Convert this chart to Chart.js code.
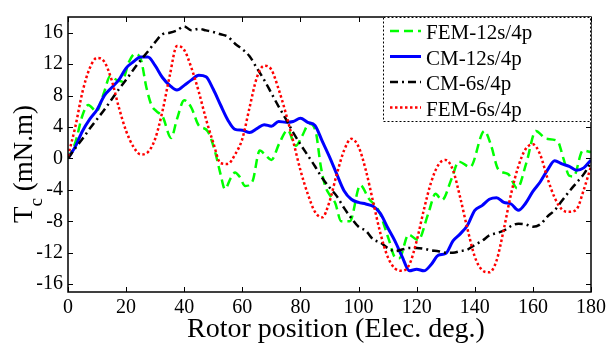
<!DOCTYPE html>
<html>
<head>
<meta charset="utf-8">
<script src="https://cdn.jsdelivr.net/npm/chart.js@4.4.0/dist/chart.umd.min.js"></script>
<style>
html, body { margin: 0; padding: 0; background: #fff; }
</style>
</head>
<body>
<canvas id="chart" width="610" height="346"></canvas>
<script>
// rotor position grid (elec. deg) shared by three of the curves
var angles = [0,2.5,5,7.5,10,12.5,15,17.5,20,22.5,25,27.5,30,32.5,35,37.5,40,42.5,45,47.5,50,52.5,55,57.5,
	60,62.5,65,67.5,70,72.5,75,77.5,80,82.5,85,87.5,90,92.5,95,97.5,100,102.5,105,107.5,110,112.5,115,117.5,
	120,122.5,125,127.5,130,132.5,135,137.5,140,142.5,145,147.5,150,152.5,155,157.5,160,162.5,165,167.5,170,172.5,175,177.5,180];

var cm12 = [0,1.5,3.5,5,6.2,8,9,10,11.5,12.3,12.9,12.9,11.8,10.3,9.3,8.7,9.3,10,10.6,10.4,8.8,6.8,4.9,3.7,
	3.6,3.3,3.8,4.3,4.1,4.7,4.6,4.7,5.1,4.6,4.2,2.2,0.2,-2,-4.1,-5.2,-5.6,-5.8,-6.1,-7,-8.8,-10.5,-12.5,-14.3,
	-14.1,-14.3,-13.5,-12.3,-12.1,-10.5,-9.6,-8.5,-6.6,-6,-5.2,-5,-5.6,-5.8,-6.6,-5.7,-4.2,-3,-1.5,-0.3,-0.7,-1,-1.5,-1.2,-0.2];

var cm6 = [0,1.3,2.5,3.8,5,6.2,7.5,8.8,10,11.3,12.5,13.6,14.8,15.8,16,16.3,16.8,16.3,16.5,16.3,16.1,15.8,15.5,14.6,
	13.9,13,11.5,10,8.3,6.6,5,3.3,1.8,0.4,-1,-2.5,-3.7,-4.8,-6.3,-7.6,-8.7,-9.2,-10.3,-10.7,-11.4,-11.8,-11.6,-11.4,
	-11.4,-11.5,-11.7,-11.8,-12,-12,-11.8,-11.6,-11,-10.5,-9.8,-9.5,-9.2,-8.6,-8.3,-8.4,-8.7,-8.4,-7.4,-6.6,-5.4,-4.2,-3.1,-2,-0.5];

var fem6 = [0.3,4,8.5,11.5,12.8,12.3,10,6.5,3.5,1.5,0.5,0.8,2.5,6,10.5,14.3,13.8,11.5,8.5,5,2,-0.6,-0.7,0.5,
	2.5,6.5,10.3,11.8,11.3,8.8,5.7,2.2,-1.5,-4.5,-6.8,-7.5,-5.5,-2,1,2.5,1.5,-1.5,-5.5,-9.5,-12.5,-14,-14.3,-13.5,
	-10.5,-6.5,-3,-0.8,-0.2,-1.5,-5,-9,-12.5,-14.2,-14.5,-13,-9,-4.5,-1,1.2,1.8,0.5,-2.5,-5,-6.5,-6.8,-6.5,-4,-1];

// FEM-12s/4p read at its own turning points
var fem12X = [0,2.5,5,7,9.8,12.5,14.5,16.7,18.5,21,23,25,27,28.7,30.5,32.6,35.5,37.5,40,42.4,45,48,50.5,52.5,54,
	56,57.5,59,61,63.5,66,68,70,72.7,75.6,78.4,80.5,83,85.2,87,88.5,90,92,94,97,100.6,103.5,107,110.4,112.6,
	114,117.2,120.5,124,126.5,128.7,132.1,134.5,138.4,143.3,145.5,148.1,151.5,154.6,157.8,161,164.6,168.5,170.5,172.5,174,177.2,180];
var fem12Y = [0,2,5.5,6.8,6,8.5,10.5,10,9.8,12.3,13.3,12.7,9,6.8,6,5.3,2.6,5,7.4,6.5,4.2,3.5,1,-2,-3.9,
	-2.5,-1.8,-2.3,-3.5,-2.9,1,0.4,-0.2,1.9,3.6,1.6,2.8,4.4,3.5,-1,-3.5,-4.6,-5.7,-8,-8,-3.4,-5.1,-6.7,-10.3,-12.6,
	-12.7,-9.7,-10.4,-7,-4.5,-5.3,-2.5,-0.4,-1.1,3.5,1.8,-1.4,-2,-3.8,-0.5,3.5,2.5,2.2,0,-2.2,-2.3,1,0.8];

var xTicks = [0,20,40,60,80,100,120,140,160,180];
var yTicks = [-16,-12,-8,-4,0,4,8,12,16];
var seriesNames = ["FEM-12s/4p", "CM-12s/4p", "CM-6s/4p", "FEM-6s/4p"];

var serif = "'Liberation Serif', 'Times New Roman', serif";

function pts(xs, ys) {
	var out = [];
	for (var i = 0; i < xs.length; i++) out.push({x: xs[i], y: ys[i]});
	return out;
}

var styles = [
	{color: '#00ff00', dash: [9, 5], width: 2.5},
	{color: '#0000ff', dash: [], width: 3},
	{color: '#000000', dash: [8, 4, 2, 4], width: 2.5},
	{color: '#ff0000', dash: [2.5, 2.5], width: 2.5}
];
var seriesData = [pts(fem12X, fem12Y), pts(angles, cm12), pts(angles, cm6), pts(angles, fem6)];

var datasets = [];
for (var i = 0; i < seriesNames.length; i++) {
	datasets.push({
		label: seriesNames[i],
		data: seriesData[i],
		borderColor: styles[i].color,
		borderWidth: styles[i].width,
		borderDash: styles[i].dash,
		borderCapStyle: 'butt',
		pointRadius: 0,
		fill: false,
		cubicInterpolationMode: 'monotone',
		order: 3 - i
	});
}

function seg(c, x1, y1, x2, y2) {
	c.beginPath(); c.moveTo(x1, y1); c.lineTo(x2, y2); c.stroke();
}

var framePlugin = {
	id: 'frame',
	afterDraw: function(chart) {
		var c = chart.ctx, a = chart.chartArea;
		var xs = chart.scales.x, ys = chart.scales.y;
		c.save();
		c.strokeStyle = '#000';
		c.lineWidth = 1;
		for (var i = 0; i < xTicks.length; i++) {
			var px = Math.round(xs.getPixelForValue(xTicks[i])) + 0.5;
			seg(c, px, a.bottom, px, a.bottom - 5);
			seg(c, px, a.top, px, a.top + 5);
		}
		for (var j = 0; j < yTicks.length; j++) {
			var py = Math.round(ys.getPixelForValue(yTicks[j])) + 0.5;
			seg(c, a.left, py, a.left + 5, py);
			seg(c, a.right, py, a.right - 5, py);
		}
		c.lineWidth = 1.5;
		c.strokeRect(a.left, a.top, a.right - a.left, a.bottom - a.top);

		// legend box, top right
		var lx = 383, ly = a.top, lw = a.right - 383, lh = 105;
		c.fillStyle = '#fff';
		c.fillRect(lx, ly, lw, lh);
		c.lineWidth = 1;
		c.setLineDash([2, 2]);
		c.strokeRect(lx + 0.5, ly + 0.5, lw - 1, lh - 1);
		c.font = "21px " + serif;
		c.textBaseline = 'alphabetic';
		c.textAlign = 'left';
		for (var k = 0; k < seriesNames.length; k++) {
			var rowY = ly + 14 + k * 25.5;
			c.strokeStyle = styles[k].color;
			c.lineWidth = styles[k].width;
			c.setLineDash(styles[k].dash);
			seg(c, 390, rowY, 421, rowY);
			c.fillStyle = '#000';
			c.fillText(seriesNames[k], 426, rowY + 8);
		}
		c.setLineDash([]);

		// axis titles
		c.fillStyle = '#000';
		c.textAlign = 'center';
		c.font = "28px " + serif;
		c.fillText("Rotor position (Elec. deg.)", 336, 337);

		c.translate(32, 223);
		c.rotate(-Math.PI / 2);
		c.textAlign = 'left';
		c.font = "27px " + serif;
		c.fillText("T", 0, 0);
		var w = c.measureText("T").width;
		c.font = "19px " + serif;
		c.fillText("c", w, 10);
		w += c.measureText("c").width;
		c.font = "27px " + serif;
		c.fillText(" (mN.m)", w, 0);
		c.restore();
	}
};

var ctx = document.getElementById("chart");
var myChart = new Chart(ctx, {
	type: 'line',
	data: { datasets: datasets },
	options: {
		responsive: false,
		animation: false,
		layout: { padding: { top: 7, right: 17, left: 0, bottom: 0 } },
		plugins: { legend: { display: false }, tooltip: { enabled: false } },
		scales: {
			x: {
				type: 'linear', min: 0, max: 180,
				afterFit: function(s) { s.height = 54; },
				afterBuildTicks: function(s) { s.ticks = xTicks.map(function(v) { return {value: v}; }); },
				grid: { display: false, drawTicks: false },
				border: { display: false },
				ticks: { color: '#000', padding: 4, maxRotation: 0, font: { family: serif, size: 20 },
					callback: function(v) { return String(v); } }
			},
			y: {
				type: 'linear', min: -17, max: 18,
				afterFit: function(s) { s.width = 68; },
				afterBuildTicks: function(s) { s.ticks = yTicks.map(function(v) { return {value: v}; }); },
				grid: { display: false, drawTicks: false },
				border: { display: false },
				ticks: { color: '#000', padding: 5, font: { family: serif, size: 20 },
					callback: function(v) { return String(v); } }
			}
		}
	},
	plugins: [framePlugin]
});
</script>
</body>
</html>
